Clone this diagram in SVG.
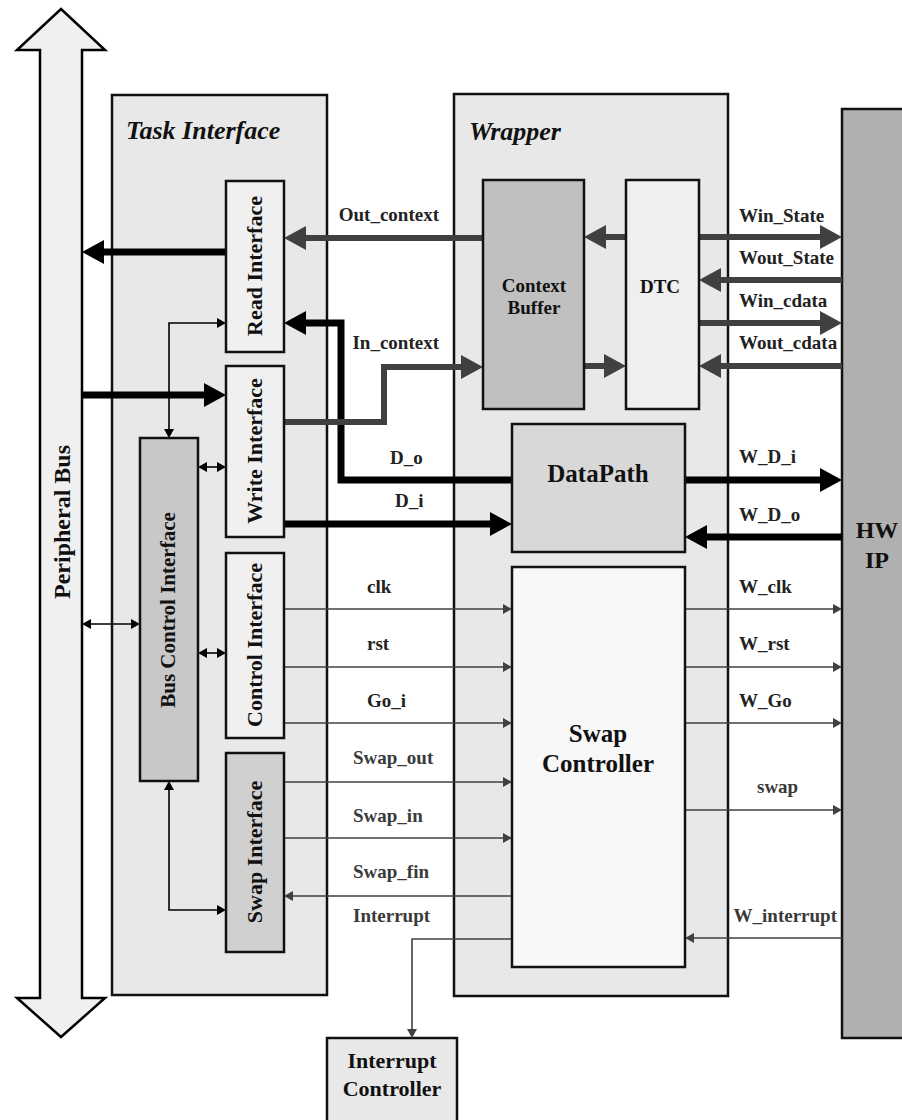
<svg xmlns="http://www.w3.org/2000/svg" width="902" height="1120" viewBox="0 0 902 1120">
<style>
text{font-family:"Liberation Serif","Times New Roman",serif;font-weight:bold;}
.box{stroke:#111;stroke-width:2.5;}
.title{font-size:26px;font-style:italic;fill:#111;}
.rot{font-size:22px;fill:#111;text-anchor:middle;}
.mid{text-anchor:middle;fill:#111;}
.lbl{font-size:19px;fill:#222;}
.lblg{font-size:19px;fill:#3a3a3a;}
.tk{fill:none;stroke:#000;stroke-width:7;}
.tkg{fill:none;stroke:#404040;stroke-width:6;}
.tn{fill:none;stroke:#404040;stroke-width:1.6;}
.tnb{fill:none;stroke:#000;stroke-width:1.6;}
</style>
<defs>
<marker id="ahK" markerUnits="userSpaceOnUse" markerWidth="22" markerHeight="24" refX="2" refY="12" orient="auto"><path d="M0,0 L22,12 L0,24 z" fill="#000"/></marker>
<marker id="ahG" markerUnits="userSpaceOnUse" markerWidth="22" markerHeight="24" refX="2" refY="12" orient="auto"><path d="M0,0 L22,12 L0,24 z" fill="#404040"/></marker>
<marker id="ahn" markerUnits="userSpaceOnUse" markerWidth="9" markerHeight="10" refX="1" refY="5" orient="auto-start-reverse"><path d="M0,0 L9,5 L0,10 z" fill="#404040"/></marker>
<marker id="ahb" markerUnits="userSpaceOnUse" markerWidth="9" markerHeight="10" refX="1" refY="5" orient="auto-start-reverse"><path d="M0,0 L9,5 L0,10 z" fill="#000"/></marker>
</defs>
<rect width="902" height="1120" fill="#fff"/>

<g id="peripheral-bus">
<polygon points="61,9 105,50 82,50 82,998 105,998 61,1037 17,998 40,998 40,50 17,50" fill="#f0f0f0" stroke="#000" stroke-width="2.5"/>
<text class="rot" style="font-size:24px" transform="translate(70,522) rotate(-90)">Peripheral Bus</text>
</g>

<g id="task-interface">
<rect class="box" x="112" y="95" width="215" height="900" fill="#e8e8e8"/>
<text class="title" x="126" y="139">Task Interface</text>
</g>

<g id="wrapper">
<rect class="box" x="454" y="94" width="274" height="902" fill="#e8e8e8"/>
<text class="title" x="469" y="140">Wrapper</text>
</g>

<g id="hw-ip">
<rect class="box" x="842" y="109" width="70" height="929" fill="#b0b0b0"/>
<text class="mid" style="font-size:24px" x="877" y="538">HW</text>
<text class="mid" style="font-size:24px" x="877" y="568">IP</text>
</g>

<g id="interrupt-controller">
<rect class="box" x="327" y="1038" width="130" height="100" fill="#e8e8e8"/>
<text class="mid" style="font-size:22px" x="392" y="1068">Interrupt</text>
<text class="mid" style="font-size:22px" x="392" y="1096">Controller</text>
</g>

<g id="connectors">
<path class="tk" d="M226,252 H102" marker-end="url(#ahK)"/>
<path class="tk" d="M82,395 H206" marker-end="url(#ahK)"/>
<path class="tk" d="M512,480 H341 V323 H304" marker-end="url(#ahK)"/>
<path class="tk" d="M284,524 H492" marker-end="url(#ahK)"/>
<path class="tk" d="M685,480 H822" marker-end="url(#ahK)"/>
<path class="tk" d="M842,537 H705" marker-end="url(#ahK)"/>
<path class="tkg" d="M483,238 H304" marker-end="url(#ahG)"/>
<path class="tkg" d="M284,422 H384 V367 H463" marker-end="url(#ahG)"/>
<path class="tkg" d="M626,237 H604" marker-end="url(#ahG)"/>
<path class="tkg" d="M584,366 H606" marker-end="url(#ahG)"/>
<path class="tkg" d="M699,237 H822" marker-end="url(#ahG)"/>
<path class="tkg" d="M842,280 H719" marker-end="url(#ahG)"/>
<path class="tkg" d="M699,323 H822" marker-end="url(#ahG)"/>
<path class="tkg" d="M842,366 H719" marker-end="url(#ahG)"/>
<path class="tn" d="M284,609 H504" marker-end="url(#ahn)"/>
<path class="tn" d="M284,667 H504" marker-end="url(#ahn)"/>
<path class="tn" d="M284,723 H504" marker-end="url(#ahn)"/>
<path class="tn" d="M284,782 H504" marker-end="url(#ahn)"/>
<path class="tn" d="M284,838 H504" marker-end="url(#ahn)"/>
<path class="tn" d="M512,896 H292" marker-end="url(#ahn)"/>
<path class="tn" d="M685,609 H834" marker-end="url(#ahn)"/>
<path class="tn" d="M685,667 H834" marker-end="url(#ahn)"/>
<path class="tn" d="M685,723 H834" marker-end="url(#ahn)"/>
<path class="tn" d="M685,810 H834" marker-end="url(#ahn)"/>
<path class="tn" d="M842,938 H693" marker-end="url(#ahn)"/>
<path class="tn" d="M512,939 H412 V1030" marker-end="url(#ahn)"/>
<path class="tnb" d="M90,624 H132" marker-start="url(#ahb)" marker-end="url(#ahb)"/>
<path class="tnb" d="M206,467 H218" marker-start="url(#ahb)" marker-end="url(#ahb)"/>
<path class="tnb" d="M206,653 H218" marker-start="url(#ahb)" marker-end="url(#ahb)"/>
<path class="tnb" d="M218,323 H169 V430" marker-start="url(#ahb)" marker-end="url(#ahb)"/>
<path class="tnb" d="M169,789 V910 H218" marker-start="url(#ahb)" marker-end="url(#ahb)"/>
<text class="lbl" x="439" y="221" text-anchor="end">Out_context</text>
<text class="lbl" x="439" y="349" text-anchor="end">In_context</text>
<text class="lbl" x="390" y="464">D_o</text>
<text class="lbl" x="395" y="507">D_i</text>
<text class="lbl" x="367" y="593">clk</text>
<text class="lbl" x="367" y="650">rst</text>
<text class="lbl" x="367" y="707">Go_i</text>
<text class="lblg" x="353" y="764">Swap_out</text>
<text class="lblg" x="353" y="822">Swap_in</text>
<text class="lblg" x="353" y="878">Swap_fin</text>
<text class="lblg" x="353" y="922">Interrupt</text>
<text class="lbl" x="739" y="222">Win_State</text>
<text class="lbl" x="739" y="264">Wout_State</text>
<text class="lbl" x="739" y="307">Win_cdata</text>
<text class="lbl" x="739" y="349">Wout_cdata</text>
<text class="lbl" x="739" y="463">W_D_i</text>
<text class="lbl" x="739" y="521">W_D_o</text>
<text class="lbl" x="739" y="593">W_clk</text>
<text class="lbl" x="739" y="650">W_rst</text>
<text class="lbl" x="739" y="707">W_Go</text>
<text class="lblg" x="757" y="793">swap</text>
<text class="lblg" x="837" y="922" text-anchor="end">W_interrupt</text>
</g>

<g id="read-interface">
<rect class="box" x="226" y="181" width="58" height="171" fill="#f0f0f0"/>
<text class="rot" transform="translate(262,266) rotate(-90)">Read Interface</text>
</g>
<g id="write-interface">
<rect class="box" x="226" y="366" width="58" height="171" fill="#f0f0f0"/>
<text class="rot" transform="translate(262,451) rotate(-90)">Write Interface</text>
</g>
<g id="control-interface">
<rect class="box" x="226" y="553" width="58" height="185" fill="#f0f0f0"/>
<text class="rot" transform="translate(262,645) rotate(-90)">Control Interface</text>
</g>
<g id="swap-interface">
<rect class="box" x="226" y="753" width="58" height="199" fill="#d0d0d0"/>
<text class="rot" transform="translate(262,852) rotate(-90)">Swap Interface</text>
</g>
<g id="bus-control-interface">
<rect class="box" x="140" y="438" width="58" height="343" fill="#c8c8c8"/>
<text class="rot" style="font-size:21px" transform="translate(175,610) rotate(-90)">Bus Control Interface</text>
</g>
<g id="context-buffer">
<rect class="box" x="483" y="180" width="101" height="229" fill="#c0c0c0"/>
<text class="mid" style="font-size:19px" x="534" y="292">Context</text>
<text class="mid" style="font-size:19px" x="534" y="314">Buffer</text>
</g>
<g id="dtc">
<rect class="box" x="626" y="180" width="73" height="229" fill="#efefef"/>
<text class="mid" style="font-size:19px" x="660" y="293">DTC</text>
</g>
<g id="datapath">
<rect class="box" x="512" y="424" width="173" height="128" fill="#d8d8d8"/>
<text class="mid" style="font-size:25px" x="598" y="482">DataPath</text>
</g>
<g id="swap-controller">
<rect class="box" x="512" y="567" width="173" height="400" fill="#f8f8f8"/>
<text class="mid" style="font-size:25px" x="598" y="742">Swap</text>
<text class="mid" style="font-size:25px" x="598" y="772">Controller</text>
</g>
</svg>
